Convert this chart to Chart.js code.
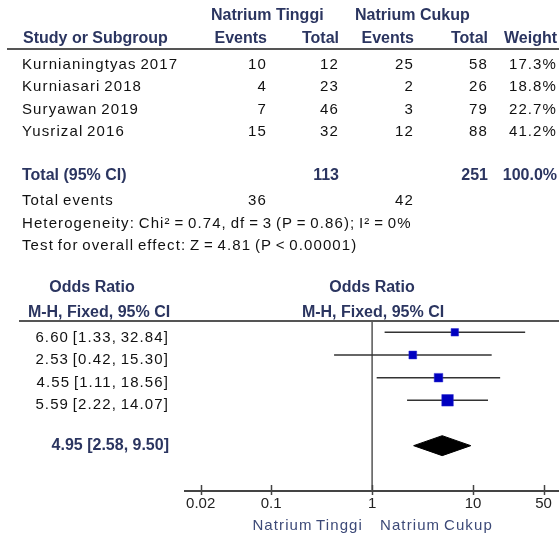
<!DOCTYPE html>
<html>
<head>
<meta charset="utf-8">
<script src="https://cdn.jsdelivr.net/npm/chart.js@4"></script>
<style>
body{margin:0;background:#fff;}
#wrap{position:relative;width:559px;height:535px;overflow:hidden;font-family:"Liberation Sans",Arial,sans-serif;}
#plot{position:absolute;left:0;top:0;}
.t{position:absolute;white-space:nowrap;font-size:15px;letter-spacing:1.1px;word-spacing:-1.5px;line-height:18px;color:#111;}
.b{font-weight:bold;font-size:16px;letter-spacing:0;word-spacing:0;color:#2b3560;}
.lbl{color:#3d4a78;}
.hr{position:absolute;height:2px;background:#555;}
</style>
</head>
<body>
<!-- canvas a bit wider than the page: chart.js keeps half of the last tick label as right padding -->
<div id="wrap"><canvas id="plot" width="567" height="535"></canvas></div>
<script>
'use strict'

// study data
const studies = ['Kurnianingtyas 2017', 'Kurniasari 2018', 'Suryawan 2019', 'Yusrizal 2016']
const events_tinggi = [10, 4, 7, 15]
const total_tinggi = [12, 23, 46, 32]
const events_cukup = [25, 2, 3, 12]
const total_cukup = [58, 26, 79, 88]
const weights = [17.3, 18.8, 22.7, 41.2]
const odds = [6.60, 2.53, 4.55, 5.59]
const ci_low = [1.33, 0.42, 1.11, 2.22]
const ci_high = [32.84, 15.30, 18.56, 14.07]

// pooled result
const pooled = [4.95, 2.58, 9.50]      // OR, low, high
const sum_total = [113, 251]
const sum_events = [36, 42]
const hetero = ['0.74', '3', '0.86', '0']   // chi2, df, p, I2
const overall = ['4.81', '0.00001']         // Z, p

const x_ticks = [0.02, 0.1, 1, 10, 50]
const groups = ['Natrium Tinggi', 'Natrium Cukup']

//////////////////////////////////////////////////////////////////
// text of the table
//////////////////////////////////////////////////////////////////
const wrap = document.getElementById('wrap')
function txt(str, x, y, align, cls){
    var d = document.createElement('div')
    d.className = 't' + (cls ? ' ' + cls : '')
    d.textContent = str
    d.style.top = (y - 9) + 'px'
    if(align == 'right'){
        d.style.right = (559 - x) + 'px'
    }
    else if(align == 'center'){
        d.style.left = x + 'px'
        d.style.transform = 'translateX(-50%)'
    }
    else{
        d.style.left = x + 'px'
    }
    wrap.appendChild(d)
}
function hline(x1, x2, y){
    var d = document.createElement('div')
    d.className = 'hr'
    d.style.left = x1 + 'px'
    d.style.width = (x2 - x1) + 'px'
    d.style.top = (y - 1) + 'px'
    wrap.appendChild(d)
}

const cols = [267, 339, 414, 488, 557]

txt(groups[0], 211, 15, 'left', 'b')
txt(groups[1], 355, 15, 'left', 'b')
txt('Study or Subgroup', 23, 38, 'left', 'b')
txt('Events', cols[0], 38, 'right', 'b')
txt('Total', cols[1], 38, 'right', 'b')
txt('Events', cols[2], 38, 'right', 'b')
txt('Total', cols[3], 38, 'right', 'b')
txt('Weight', cols[4], 38, 'right', 'b')
hline(7, 559, 49)

studies.forEach((s, i) => {
    var y = 63.5 + 22.6 * i
    txt(s, 22, y)
    txt(String(events_tinggi[i]), cols[0], y, 'right')
    txt(String(total_tinggi[i]), cols[1], y, 'right')
    txt(String(events_cukup[i]), cols[2], y, 'right')
    txt(String(total_cukup[i]), cols[3], y, 'right')
    txt(weights[i].toFixed(1) + '%', cols[4], y, 'right')
})

txt('Total (95% CI)', 22, 175, 'left', 'b')
txt(String(sum_total[0]), cols[1], 175, 'right', 'b')
txt(String(sum_total[1]), cols[3], 175, 'right', 'b')
txt('100.0%', cols[4], 175, 'right', 'b')
txt('Total events', 22, 200)
txt(String(sum_events[0]), cols[0], 200, 'right')
txt(String(sum_events[1]), cols[2], 200, 'right')
txt('Heterogeneity: Chi\u00b2 = ' + hetero[0] + ', df = ' + hetero[1] + ' (P = ' + hetero[2] + '); I\u00b2 = ' + hetero[3] + '%', 22, 223)
txt('Test for overall effect: Z = ' + overall[0] + ' (P < ' + overall[1] + ')', 22, 245)

txt('Odds Ratio', 92, 287, 'center', 'b')
txt('M-H, Fixed, 95% CI', 99, 312, 'center', 'b')
txt('Odds Ratio', 372, 287, 'center', 'b')
txt('M-H, Fixed, 95% CI', 373, 312, 'center', 'b')
hline(19, 559, 321)

odds.forEach((v, i) => {
    txt(v.toFixed(2) + ' [' + ci_low[i].toFixed(2) + ', ' + ci_high[i].toFixed(2) + ']', 169, 336.7 + 22.5 * i, 'right')
})
txt(pooled[0].toFixed(2) + ' [' + pooled[1].toFixed(2) + ', ' + pooled[2].toFixed(2) + ']', 169, 445, 'right', 'b')

txt(groups[0], 363, 525, 'right', 'lbl')
txt(groups[1], 380, 525, 'left', 'lbl')

//////////////////////////////////////////////////////////////////
// forest plot
//////////////////////////////////////////////////////////////////
const total_row = studies.length + 1

const tickMarks = {
    id: 'tickMarks',
    afterDraw(chart){
        const c = chart.ctx
        const sx = chart.scales.x
        const y0 = chart.chartArea.bottom
        c.save()
        c.strokeStyle = '#444'
        c.lineWidth = 1.5
        x_ticks.forEach(v => {
            var px = Math.round(sx.getPixelForValue(v)) + 0.5
            c.beginPath()
            c.moveTo(px, y0 - 6)
            c.lineTo(px, y0 + 4)
            c.stroke()
        })
        c.restore()
    }
}

var datasets = []
// squares (drawn on top)
datasets.push({
    data: odds.map((v, i) => ({x: v, y: i})),
    pointStyle: 'rect',
    pointRadius: weights.map(w => 1.8 * Math.sqrt(w) / Math.SQRT2),
    backgroundColor: '#0000c0',
    borderColor: '#2a2ad0',
    borderWidth: 0.5,
    showLine: false
})
// diamond
datasets.push({
    data: [
        {x: pooled[1], y: total_row},
        {x: pooled[0], y: total_row - 0.44},
        {x: pooled[2], y: total_row},
        {x: pooled[0], y: total_row + 0.44},
        {x: pooled[1], y: total_row}
    ],
    showLine: true,
    fill: 'shape',
    backgroundColor: '#000',
    borderColor: '#000',
    borderWidth: 1,
    pointRadius: 0,
    tension: 0
})
// confidence intervals
studies.forEach((s, i) => {
    datasets.push({
        data: [{x: ci_low[i], y: i}, {x: ci_high[i], y: i}],
        showLine: true,
        borderColor: '#333',
        borderWidth: 1.5,
        pointRadius: 0
    })
})
// line of no effect
datasets.push({
    data: [{x: 1, y: -0.5}, {x: 1, y: 7}],
    showLine: true,
    borderColor: '#555',
    borderWidth: 1.5,
    pointRadius: 0
})

new Chart(document.getElementById('plot'), {
    type: 'scatter',
    data: {datasets: datasets},
    options: {
        responsive: false,
        animation: false,
        events: [],
        layout: {padding: {left: 185, right: 0, top: 321, bottom: 18}},
        plugins: {legend: {display: false}, tooltip: {enabled: false}},
        scales: {
            x: {
                type: 'logarithmic',
                min: 0.014,
                max: 70,
                afterBuildTicks: s => { s.ticks = x_ticks.map(v => ({value: v})) },
                ticks: {
                    color: '#222',
                    font: {family: 'Liberation Sans', size: 15},
                    padding: 4,
                    autoSkip: false,
                    maxRotation: 0,
                    callback: v => String(v)
                },
                grid: {display: false, drawTicks: false},
                border: {display: true, color: '#444', width: 2}
            },
            y: {type: 'linear', min: -0.5, max: 7, reverse: true, display: false}
        }
    },
    plugins: [tickMarks]
})
</script>
</body>
</html>
